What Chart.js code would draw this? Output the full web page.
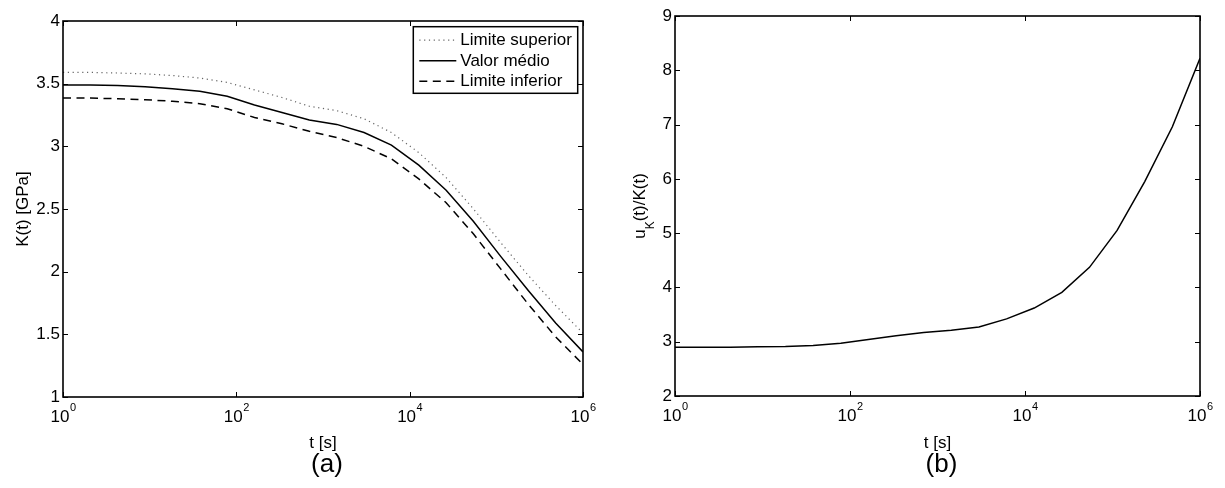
<!DOCTYPE html>
<html>
<head>
<meta charset="utf-8">
<script src="https://cdn.jsdelivr.net/npm/chart.js@4.4.1/dist/chart.umd.min.js"></script>
<style>
  html, body { margin: 0; padding: 0; background: #fff; }
  #wrap { position: relative; width: 1225px; height: 488px; }
  canvas { position: absolute; top: 0; }
  #chartA { left: 0; }
  #chartB { left: 612px; }
</style>
</head>
<body>
<div id="wrap">
  <canvas id="chartA" width="612" height="488"></canvas>
  <canvas id="chartB" width="613" height="488"></canvas>
</div>
<script>
const FONT = '"Liberation Sans", Arial, Helvetica, sans-serif';

// sample times [s], log-spaced from 1 s to 1e6 s
const times = [1, 2.07, 4.28, 8.86, 18.3, 37.9, 78.5, 162, 336, 695,
               1438, 2976, 6158, 12743, 26367, 54556, 112884, 233572, 483293, 1000000];

// bulk modulus K(t) [GPa]
const kUpper = [3.59, 3.59, 3.585, 3.578, 3.565, 3.545, 3.51, 3.45, 3.39, 3.32,
                3.285, 3.22, 3.11, 2.95, 2.75, 2.50, 2.23, 1.97, 1.73, 1.51];
const kMean  = [3.49, 3.49, 3.485, 3.475, 3.46, 3.44, 3.40, 3.33, 3.27, 3.21,
                3.175, 3.11, 3.01, 2.85, 2.65, 2.40, 2.12, 1.85, 1.59, 1.36];
const kLower = [3.385, 3.385, 3.38, 3.372, 3.36, 3.34, 3.30, 3.23, 3.18, 3.12,
                3.07, 3.00, 2.90, 2.74, 2.55, 2.30, 2.02, 1.74, 1.48, 1.26];

// relative uncertainty u_K(t)/K(t)
const ratio  = [2.90, 2.90, 2.90, 2.905, 2.91, 2.93, 2.97, 3.04, 3.11, 3.17,
                3.21, 3.27, 3.42, 3.62, 3.91, 4.37, 5.05, 5.95, 6.96, 8.22];

const seriesNames = ['Limite superior', 'Valor médio', 'Limite inferior'];
const xTickValues = [1, 100, 10000, 1000000];
const yRangeA = [1, 4, 0.5];
const yRangeB = [2, 9, 1];
const xTitle = 't [s]';
const yTitleA = [{ text: 'K(t) [GPa]' }];
const yTitleB = [{ text: 'u' }, { text: 'K', sub: true }, { text: '(t)/K(t)' }];

const pts = (vals) => times.map((t, i) => ({ x: t, y: vals[i] }));

// MATLAB-style axes: box, inward ticks, 10^n labels, titles, panel letter, legend
const axesDecor = {
  id: 'axesDecor',
  afterDatasetsDraw(chart, args, opts) {
    const ctx = chart.ctx;
    const ca = chart.chartArea;
    const xs = chart.scales.x, ys = chart.scales.y;
    ctx.save();

    // inward tick marks
    ctx.strokeStyle = '#000';
    ctx.lineWidth = 1;
    ctx.beginPath();
    xTickValues.forEach(v => {
      const px = Math.round(xs.getPixelForValue(v)) + 0.5;
      ctx.moveTo(px, ca.bottom); ctx.lineTo(px, ca.bottom - 5);
      ctx.moveTo(px, ca.top); ctx.lineTo(px, ca.top + 5);
    });
    ys.ticks.forEach(t => {
      const py = Math.round(ys.getPixelForValue(t.value)) + 0.5;
      ctx.moveTo(ca.left, py); ctx.lineTo(ca.left + 5, py);
      ctx.moveTo(ca.right, py); ctx.lineTo(ca.right - 5, py);
    });
    ctx.stroke();

    // axes box
    ctx.lineWidth = 1.6;
    ctx.strokeRect(ca.left, ca.top, ca.right - ca.left, ca.bottom - ca.top);

    // x tick labels 10^n
    ctx.fillStyle = '#000';
    ctx.textBaseline = 'alphabetic';
    ctx.textAlign = 'left';
    xTickValues.forEach(v => {
      const px = xs.getPixelForValue(v);
      const exp = String(Math.round(Math.log10(v)));
      ctx.font = '17px ' + FONT;
      const wb = ctx.measureText('10').width;
      ctx.font = '11px ' + FONT;
      const we = ctx.measureText(exp).width;
      const x0 = px - (wb + we) / 2;
      ctx.font = '17px ' + FONT;
      ctx.fillText('10', x0, ca.bottom + 25);
      ctx.font = '11px ' + FONT;
      ctx.fillText(exp, x0 + wb + 0.5, ca.bottom + 14);
    });

    // x title
    ctx.font = '17px ' + FONT;
    ctx.textAlign = 'center';
    ctx.fillText(xTitle, (ca.left + ca.right) / 2, 448);

    // panel letter
    ctx.font = '26px ' + FONT;
    ctx.fillText(opts.letter, (ca.left + ca.right) / 2 + 4, 472);

    // y title (rotated, with optional subscript parts)
    const parts = opts.yTitle;
    let total = 0;
    parts.forEach(p => {
      ctx.font = (p.sub ? '12px ' : '17px ') + FONT;
      p.w = ctx.measureText(p.text).width;
      total += p.w;
    });
    ctx.save();
    ctx.translate(opts.yTitleX, (ca.top + ca.bottom) / 2);
    ctx.rotate(-Math.PI / 2);
    ctx.textAlign = 'left';
    let x = -total / 2;
    parts.forEach(p => {
      ctx.font = (p.sub ? '12px ' : '17px ') + FONT;
      ctx.fillText(p.text, x, p.sub ? 8.5 : 0);
      x += p.w;
    });
    ctx.restore();

    // legend box
    if (opts.legend) {
      const bw = 164.4, bh = 66.6;
      const bx = ca.right - 5.3 - bw, by = ca.top + 5.7;
      ctx.fillStyle = '#fff';
      ctx.fillRect(bx, by, bw, bh);
      ctx.strokeStyle = '#000';
      ctx.lineWidth = 1.5;
      ctx.strokeRect(bx, by, bw, bh);
      chart.data.datasets.forEach((ds, i) => {
        const cy = by + 13.5 + i * 20.5;
        ctx.strokeStyle = ds.borderColor;
        ctx.lineWidth = ds.borderWidth;
        ctx.setLineDash(ds.borderDash || []);
        ctx.beginPath();
        ctx.moveTo(bx + 6, cy);
        ctx.lineTo(bx + 43, cy);
        ctx.stroke();
        ctx.setLineDash([]);
        ctx.fillStyle = '#000';
        ctx.font = '17px ' + FONT;
        ctx.textAlign = 'left';
        ctx.textBaseline = 'middle';
        ctx.fillText(ds.label, bx + 47, cy + 0.5);
      });
    }
    ctx.restore();
  }
};

function makeOptions(yRange, pad, xHeight, decor) {
  return {
    responsive: false,
    animation: false,
    events: [],
    layout: { padding: pad },
    elements: { point: { radius: 0 }, line: { tension: 0 } },
    plugins: {
      legend: { display: false },
      title: { display: false },
      tooltip: { enabled: false },
      axesDecor: decor
    },
    scales: {
      x: {
        type: 'logarithmic',
        min: 1, max: 1000000,
        grid: { display: false, drawTicks: false },
        border: { display: false },
        ticks: { display: false },
        afterBuildTicks: (s) => { s.ticks = xTickValues.map(v => ({ value: v })); },
        afterFit: (s) => { s.height = xHeight; }
      },
      y: {
        type: 'linear',
        min: yRange[0], max: yRange[1],
        grid: { display: false, drawTicks: false },
        border: { display: false },
        ticks: {
          stepSize: yRange[2],
          padding: 3,
          color: '#000',
          font: { family: FONT, size: 17 },
          callback: (v) => String(Math.round(v * 10) / 10)
        },
        afterFit: (s) => { s.width = 63; }
      }
    }
  };
}

new Chart(document.getElementById('chartA'), {
  type: 'line',
  data: {
    datasets: [
      { label: seriesNames[0], data: pts(kUpper), borderColor: '#666', borderWidth: 1.2, borderDash: [1.2, 3.6] },
      { label: seriesNames[1], data: pts(kMean),  borderColor: '#000', borderWidth: 1.5 },
      { label: seriesNames[2], data: pts(kLower), borderColor: '#000', borderWidth: 1.5, borderDash: [8, 5.5] }
    ]
  },
  options: makeOptions(yRangeA, { left: 0, right: 29, top: 21, bottom: 0 }, 91,
    { letter: '(a)', yTitle: yTitleA, yTitleX: 27.5, legend: true }),
  plugins: [axesDecor]
});

new Chart(document.getElementById('chartB'), {
  type: 'line',
  data: {
    datasets: [
      { label: 'u_K/K', data: pts(ratio), borderColor: '#000', borderWidth: 1.5 }
    ]
  },
  options: makeOptions(yRangeB, { left: 0, right: 25, top: 16, bottom: 0 }, 92,
    { letter: '(b)', yTitle: yTitleB, yTitleX: 33, legend: false }),
  plugins: [axesDecor]
});
</script>
</body>
</html>
